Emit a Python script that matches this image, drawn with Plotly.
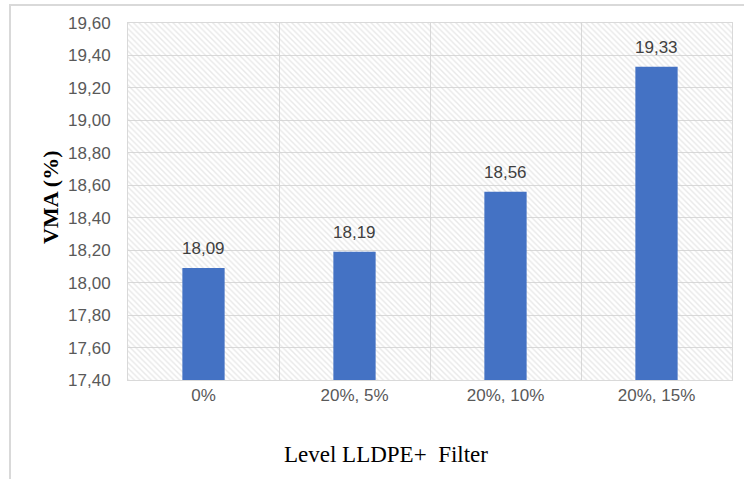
import plotly.graph_objects as go

categories = ["0%", "20%, 5%", "20%, 10%", "20%, 15%"]
vma = [18.09, 18.19, 18.56, 19.33]
y_min, y_max, y_step = 17.40, 19.60, 0.20

W, H = 744, 479
ml, mr, mt, mb = 128, 12, 23, 99
pw, ph = W - ml - mr, H - mt - mb

fig = go.Figure()

# hatched plot background
fig.add_trace(go.Bar(
    x=categories, y=[y_max - y_min] * len(categories), base=[y_min] * len(categories),
    width=1, marker=dict(color="rgba(0,0,0,0)", line=dict(width=0),
                         pattern=dict(shape="\\", fgcolor="#d2d2d2", bgcolor="rgba(255,255,255,0)",
                                      size=4, solidity=0.35)),
    hoverinfo="skip", showlegend=False,
))

fig.add_trace(go.Bar(
    x=categories, y=[v - y_min for v in vma], base=[y_min] * len(vma),
    width=0.28, marker=dict(color="#4472C4", line=dict(width=0)),
    showlegend=False,
))

labels = [dict(x=c, y=v, xref="x", yref="y", text=f"{v:.2f}".replace(".", ","),
               showarrow=False, xanchor="center", yanchor="bottom", yshift=8,
               font=dict(family="Liberation Sans", size=17, color="#404040"))
          for c, v in zip(categories, vma)]

fig.update_layout(
    width=W, height=H, barmode="overlay",
    margin=dict(l=ml, r=mr, t=mt, b=mb),
    paper_bgcolor="white", plot_bgcolor="white",
    separators=",.",
    xaxis=dict(type="category", tickson="boundaries", showgrid=True, gridcolor="#d9d9d9", gridwidth=1,
               showline=True, linecolor="#d9d9d9", mirror=True, linewidth=1,
               ticks="outside", ticklen=23, tickcolor="rgba(0,0,0,0)",
               tickfont=dict(family="Liberation Sans", size=17, color="#595959"),
               range=[-0.5, 3.5]),
    yaxis=dict(range=[y_min, y_max], dtick=y_step, tick0=y_min, tickformat=".2f",
               showgrid=True, gridcolor="#d9d9d9", gridwidth=1,
               showline=True, linecolor="#d9d9d9", mirror=True, linewidth=1,
               ticks="outside", ticklen=13, tickcolor="rgba(0,0,0,0)",
               tickfont=dict(family="Liberation Sans", size=17, color="#595959"),
               zeroline=False),
    annotations=labels + [
        dict(text="Level LLDPE+  Filter", xref="paper", yref="paper",
             x=(386 - ml) / pw, y=(mt + ph - 455) / ph, xanchor="center", yanchor="middle",
             showarrow=False, font=dict(family="Liberation Serif", size=23, color="#000000")),
        dict(text="<b>VMA (%)</b>", xref="paper", yref="paper", textangle=-90,
             x=(50 - ml) / pw, y=(mt + ph - 198) / ph, xanchor="center", yanchor="middle",
             showarrow=False, font=dict(family="Liberation Serif", size=22, color="#000000")),
    ],
    shapes=[dict(type="rect", xref="paper", yref="paper",
                 x0=(10 - ml) / pw, x1=(W + 20 - ml) / pw,
                 y0=(mt + ph - (H + 20)) / ph, y1=(mt + ph - 5) / ph,
                 line=dict(color="#d9d9d9", width=2), fillcolor="rgba(0,0,0,0)", layer="below")],
)

fig.write_html("out.html", config={"displayModeBar": False},
               post_script="document.body.style.margin='0';")
